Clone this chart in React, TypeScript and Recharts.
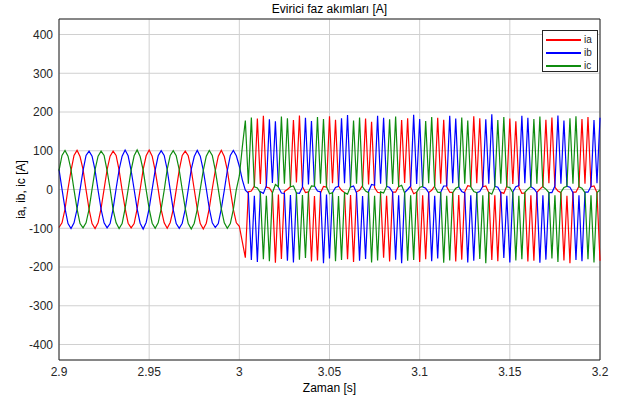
import React from "react";
import {
  LineChart,
  Line,
  XAxis,
  YAxis,
  CartesianGrid,
  Legend,
  ReferenceLine,
} from "recharts";

// sampling grid: 2.9 s .. 3.2 s, one sample every 1/600 s
const T_START = 2.9;
const SAMPLE_RATE = 600;

const X_TICKS = [2.9, 2.95, 3, 3.05, 3.1, 3.15, 3.2];
const Y_TICKS = [-400, -300, -200, -100, 0, 100, 200, 300, 400];

// phase a: 50 Hz sine up to 3.0 s, then pulses
const ia = [
  -98, -86, -51, 2, 49, 88, 101, 85, 52, -1, -51, -88,
  -101, -86, -49, 1, 51, 86, 99, 88, 50, -2, -49, -87,
  -99, -88, -50, 0, 52, 87, 102, 86, 49, 1, -52, -86,
  -100, -85, -51, -1, 50, 88, 99, 87, 51, 0, -50, -88,
  -102, -87, -49, 2, 49, 86, 101, 85, 50, -1, -51, -86,
  -95, -135,
  -176, -6, -4, 9, 183, 14, 190, 6, 4, -8, -189, -13,
  -179, -5, 0, 7, 179, 18, 191, 8, -8, -6, -186, -17,
  -183, -9, 8, 6, 189, 16, 180, 9, -2, -8, -180, -14,
  -187, -6, -2, 10, 183, 13, 175, 5, -7, -9, -176, -16,
  -186, -7, -7, 8, 179, 17, 184, 6, -11, -7, -187, -15,
  -180, -8, -2, 9, 185, 15, 180, 7, -7, -8, -186, -14,
  -181, -6, 10, 8, 189, 16, 184, 7, 9, -8, -182, -15,
  -185, -7, -10, 9, 183, 14, 176, 6, -10, -9, -186, -15,
  -184, -7, 1, 8, 180, 16, 186, 6, -4, -8, -183, -16,
  -190, -7, -7, 8, 182, 15, 187, 7, 9, -8, -184,
];

const ib = [
  52, 1, -49, -88, -101, -86, -51, -1, 49, 88, 99, 86,
  50, -2, -51, -86, -99, -88, -50, 2, 51, 86, 102, 87,
  49, 0, -50, -87, -102, -85, -49, 1, 50, 87, 100, 88,
  51, -1, -52, -88, -100, -87, -51, 0, 52, 85, 101, 86,
  50, 2, -49, -86, -98, -88, -50, -2, 49, 88, 101, 87,
  60, 25,
  -2, -9, -182, -16, -187, -6, -10, 10, 181, 17, 176, 6,
  -9, -10, -184, -14, -188, -9, -10, 6, 185, 13, 177, 9,
  -4, -6, -190, -13, -178, -8, 5, 8, 184, 16, 192, 6,
  9, -9, -184, -17, -179, -5, 13, 11, 190, 15, 185, 8,
  5, -7, -181, -15, -190, -8, 0, 9, 193, 14, 182, 7,
  3, -8, -185, -16, -178, -7, 9, 9, 190, 16, 183, 7,
  -5, -9, -188, -15, -184, -8, -5, 8, 181, 15, 194, 8,
  6, -8, -177, -16, -188, -6, 7, 10, 190, 16, 185, 7,
  2, -8, -189, -15, -181, -8, -8, 9, 191, 15, 178, 8,
  6, -8, -182, -15, -185, -7, -7, 8, 179, 16, 185,
];

const ic = [
  49, 88, 101, 86, 51, -1, -50, -88, -99, -86, -51, 1,
  51, 86, 99, 88, 49, 2, -52, -86, -101, -88, -49, 0,
  50, 87, 102, 85, 50, -1, -50, -87, -100, -86, -50, -2,
  52, 88, 100, 87, 51, 0, -49, -88, -102, -87, -51, 1,
  49, 86, 101, 88, 50, 1, -50, -86, -100, -88, -52, 0,
  35, 110,
  178, 15, 186, 7, 4, -8, -180, -16, -185, -9, 13, 7,
  188, 15, 184, 7, 9, -9, -181, -14, -177, -7, 9, 8,
  187, 15, 182, 7, -11, -8, -185, -17, -182, -8, -12, 8,
  178, 15, 186, 7, -4, -8, -188, -16, -183, -6, -9, 8,
  181, 14, 188, 7, 11, -9, -184, -15, -182, -7, 5, 8,
  177, 16, 187, 7, -7, -8, -189, -16, -183, -8, 3, 7,
  186, 15, 178, 7, -5, -8, -179, -15, -190, -7, -12, 7,
  179, 15, 187, 7, 5, -8, -183, -16, -180, -7, 1, 8,
  182, 15, 188, 7, 1, -8, -178, -15, -187, -7, 5, 8,
  184, 15, 189, 7, 3, -8, -180, -15, -188, -8, -1,
];

const SERIES = [
  { key: "ia", color: "#ff0000" },
  { key: "ib", color: "#0000ff" },
  { key: "ic", color: "#0f8c0f" },
];

const data = ia.map((v, i) => ({
  t: T_START + i / SAMPLE_RATE,
  ia: v,
  ib: ib[i],
  ic: ic[i],
}));

const FONT = "'Liberation Sans', Arial, Helvetica, sans-serif";
const TEXT = "#262626";

function LegendBox() {
  return (
    <div
      style={{
        width: 56,
        height: 42,
        boxSizing: "border-box",
        border: "1px solid #262626",
        background: "#fff",
        padding: "2px 0 0 3px",
        fontFamily: FONT,
        fontSize: 10,
        color: TEXT,
      }}
    >
      {SERIES.map((s) => (
        <div key={s.key} style={{ display: "flex", alignItems: "center", height: 13 }}>
          <span style={{ width: 35, height: 0, borderTop: `2px solid ${s.color}`, marginRight: 3 }} />
          <span>{s.key}</span>
        </div>
      ))}
    </div>
  );
}

export default function App() {
  return (
    <div style={{ position: "absolute", left: 0, top: 0, width: 629, height: 403, background: "#fff" }}>
      <div
        style={{
          position: "absolute",
          left: 59,
          width: 541,
          top: 2,
          textAlign: "center",
          fontFamily: FONT,
          fontSize: 12,
          color: "#000",
        }}
      >
        Evirici faz akımları [A]
      </div>
      <LineChart
        width={629}
        height={403}
        data={data}
        margin={{ top: 19, right: 29, left: 0, bottom: 0 }}
        style={{ fontFamily: FONT }}
      >
        <CartesianGrid stroke="#d0d0d0" strokeWidth={1} />
        <XAxis
          dataKey="t"
          type="number"
          domain={[2.9, 3.2]}
          ticks={X_TICKS}
          height={43}
          stroke={TEXT}
          tickLine={false}
          tick={{ fontSize: 12, fill: TEXT }}
          tickMargin={1}
          label={{ value: "Zaman [s]", position: "insideBottom", offset: 11, fontSize: 12, fill: "#000" }}
        />
        <YAxis
          type="number"
          domain={[-440, 440]}
          ticks={Y_TICKS}
          width={59}
          stroke={TEXT}
          tickLine={false}
          tick={{ fontSize: 12, fill: TEXT }}
          tickMargin={0}
          allowDataOverflow
          label={{
            value: "ia, ib, ic [A]",
            angle: -90,
            position: "insideLeft",
            offset: 21,
            fontSize: 12,
            fill: "#000",
            style: { textAnchor: "middle" },
          }}
        />
        <ReferenceLine y={440} stroke={TEXT} />
        <ReferenceLine x={3.2} stroke={TEXT} />
        {SERIES.map((s) => (
          <Line
            key={s.key}
            type="linear"
            dataKey={s.key}
            stroke={s.color}
            strokeWidth={1.2}
            dot={false}
            isAnimationActive={false}
          />
        ))}
        <Legend
          layout="horizontal"
          align="center"
          verticalAlign="middle"
          content={() => <LegendBox />}
          wrapperStyle={{ top: 30, left: 542, width: 56 }}
        />
      </LineChart>
    </div>
  );
}
